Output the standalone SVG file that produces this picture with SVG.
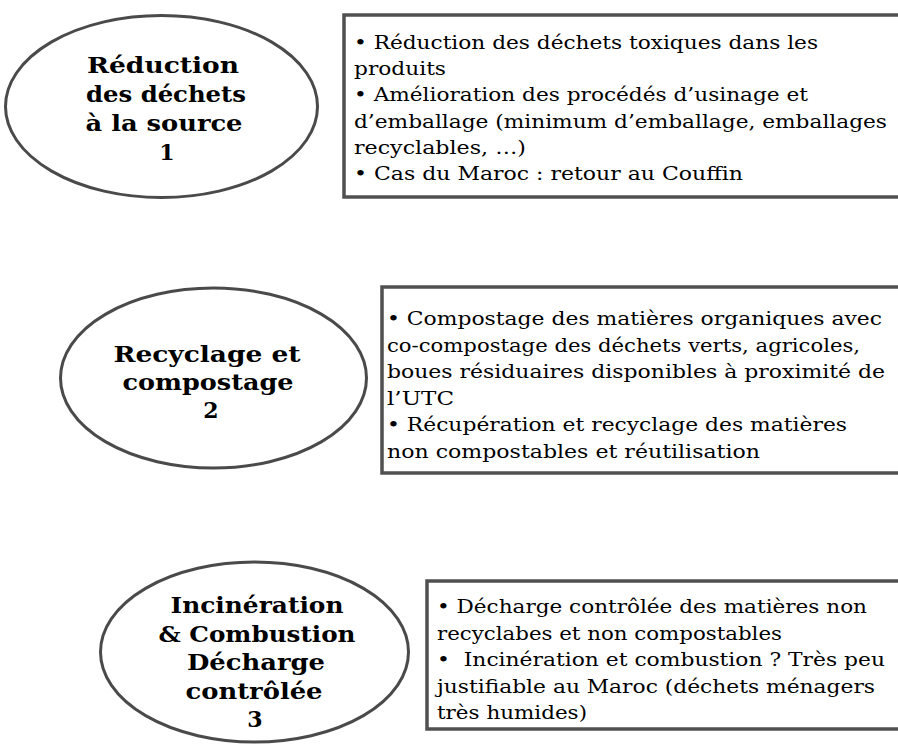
<svg xmlns="http://www.w3.org/2000/svg" width="898" height="744" viewBox="0 0 898 744">
<style>
.ell{fill:none;stroke:#4a4a4a;stroke-width:3}
.box{fill:none;stroke:#505050;stroke-width:3.5}
.lbl{font-family:"DejaVu Serif","Liberation Serif",serif;font-weight:bold;font-size:22px;fill:#000;text-anchor:middle}
.txt{font-family:"DejaVu Serif","Liberation Serif",serif;font-size:19px;fill:#000}
</style>
<rect width="898" height="744" fill="#fff"/>
<g id="connectors"/>
<g id="node1">
<ellipse class="ell" cx="161.5" cy="106.5" rx="156" ry="91"/>
<text class="lbl" x="163" y="73" textLength="152" lengthAdjust="spacingAndGlyphs">Réduction</text>
<text class="lbl" x="166" y="102" textLength="160" lengthAdjust="spacingAndGlyphs">des déchets</text>
<text class="lbl" x="164" y="131" textLength="157" lengthAdjust="spacingAndGlyphs">à la source</text>
<text class="lbl" x="167" y="160">1</text>
</g>
<g id="box1">
<rect class="box" x="344" y="15" width="600" height="182"/>
<text class="txt" x="354" y="49" textLength="464" lengthAdjust="spacingAndGlyphs">• Réduction des déchets toxiques dans les</text>
<text class="txt" x="354" y="75.2" textLength="92" lengthAdjust="spacingAndGlyphs">produits</text>
<text class="txt" x="354" y="101.4" textLength="454" lengthAdjust="spacingAndGlyphs">• Amélioration des procédés d’usinage et</text>
<text class="txt" x="354" y="127.6" textLength="533" lengthAdjust="spacingAndGlyphs">d’emballage (minimum d’emballage, emballages</text>
<text class="txt" x="354" y="153.8" textLength="172" lengthAdjust="spacingAndGlyphs">recyclables, …)</text>
<text class="txt" x="354" y="180" textLength="389" lengthAdjust="spacingAndGlyphs">• Cas du Maroc : retour au Couffin</text>
</g>
<g id="node2">
<ellipse class="ell" cx="213.5" cy="378" rx="153" ry="90"/>
<text class="lbl" x="207" y="362" textLength="187" lengthAdjust="spacingAndGlyphs">Recyclage et</text>
<text class="lbl" x="208" y="390" textLength="171" lengthAdjust="spacingAndGlyphs">compostage</text>
<text class="lbl" x="211" y="418">2</text>
</g>
<g id="box2">
<rect class="box" x="382" y="287" width="600" height="186"/>
<text class="txt" x="387" y="325" textLength="495" lengthAdjust="spacingAndGlyphs">• Compostage des matières organiques avec</text>
<text class="txt" x="387" y="351.5" textLength="473" lengthAdjust="spacingAndGlyphs">co-compostage des déchets verts, agricoles,</text>
<text class="txt" x="387" y="378" textLength="498" lengthAdjust="spacingAndGlyphs">boues résiduaires disponibles à proximité de</text>
<text class="txt" x="387" y="404.5" textLength="67" lengthAdjust="spacingAndGlyphs">l’UTC</text>
<text class="txt" x="387" y="431" textLength="460" lengthAdjust="spacingAndGlyphs">• Récupération et recyclage des matières</text>
<text class="txt" x="387" y="457.5" textLength="373" lengthAdjust="spacingAndGlyphs">non compostables et réutilisation</text>
</g>
<g id="node3">
<ellipse class="ell" cx="254.5" cy="652" rx="154" ry="90"/>
<text class="lbl" x="257" y="613" textLength="173" lengthAdjust="spacingAndGlyphs">Incinération</text>
<text class="lbl" x="257" y="641.5" textLength="197" lengthAdjust="spacingAndGlyphs">&amp; Combustion</text>
<text class="lbl" x="256" y="670" textLength="138" lengthAdjust="spacingAndGlyphs">Décharge</text>
<text class="lbl" x="254" y="698.5" textLength="137" lengthAdjust="spacingAndGlyphs">contrôlée</text>
<text class="lbl" x="255" y="727">3</text>
</g>
<g id="box3">
<rect class="box" x="427" y="581" width="600" height="148"/>
<text class="txt" x="437" y="613" textLength="430" lengthAdjust="spacingAndGlyphs">• Décharge contrôlée des matières non</text>
<text class="txt" x="437" y="639.5" textLength="345" lengthAdjust="spacingAndGlyphs">recyclabes et non compostables</text>
<text class="txt" x="437" y="666" textLength="448" lengthAdjust="spacingAndGlyphs" style="white-space:pre">•  Incinération et combustion ? Très peu</text>
<text class="txt" x="437" y="692.5" textLength="438" lengthAdjust="spacingAndGlyphs">justifiable au Maroc (déchets ménagers</text>
<text class="txt" x="437" y="719" textLength="150" lengthAdjust="spacingAndGlyphs">très humides)</text>
</g>
</svg>
